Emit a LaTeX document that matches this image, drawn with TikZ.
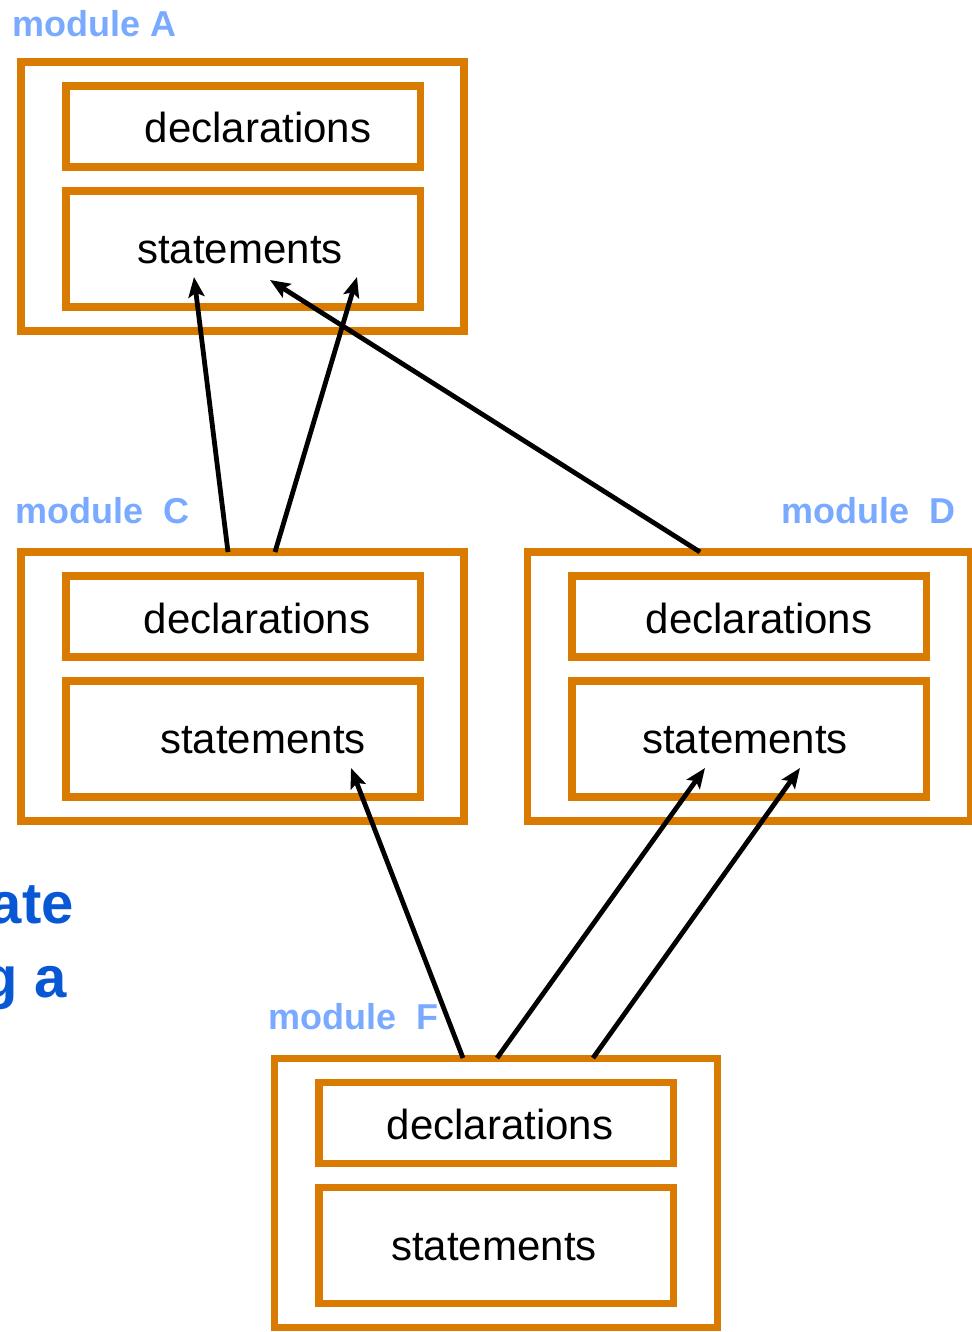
\documentclass[tikz,border=0pt]{standalone}
\usepackage{fontspec}
\setmainfont{Liberation Sans}
\usetikzlibrary{arrows.meta}
\definecolor{boxorange}{RGB}{217,123,0}
\definecolor{labelblue}{RGB}{122,170,255}
\definecolor{slideblue}{RGB}{8,88,214}

\begin{document}
\begin{tikzpicture}[
  x=0.5pt,y=-0.5pt,
  module/.style={draw=boxorange,line width=3.75pt,minimum width=221.5pt,minimum height=134.5pt,inner sep=0pt,outer sep=0pt},
  declbox/.style={draw=boxorange,line width=3.75pt,minimum width=177.25pt,minimum height=40.5pt,inner sep=0pt,outer sep=0pt},
  stmtbox/.style={draw=boxorange,line width=3.75pt,minimum width=177.25pt,minimum height=58pt,inner sep=0pt,outer sep=0pt},
  txt/.style={font=\fontsize{21}{25}\selectfont,inner sep=0pt},
  modlabel/.style={font=\bfseries\fontsize{18}{22}\selectfont,text=labelblue,inner sep=0pt},
  slide/.style={font=\bfseries\fontsize{29}{35}\selectfont,text=slideblue,inner sep=0pt,anchor=base east},
  dep/.style={-{Stealth[length=10pt,width=8pt,inset=2pt]},line width=2.4pt}
]
  \useasboundingbox (0,0) rectangle (972,1332);

  % slide text cut off at the left edge
  \node[slide] (slide1) at (74,923) {ate};
  \node[slide] (slide2) at (67,997) {g a};

  % module A
  \node[modlabel,anchor=west] (labA) at (12,24) {module A};
  \node[module] (Amod) at (242.5,196.5) {};
  \node[declbox] (Adecl) at (243,126.5) {};
  \node[stmtbox] (Astmt) at (243,249) {};
  \node[txt] (Adecltxt) at (258,127) {declarations};
  \node[txt] (Astmttxt) at (240,250) {statements};

  % module C
  \node[modlabel,anchor=west] (labC) at (15,511) {module\ \ C};
  \node[module] (Cmod) at (242.5,686.5) {};
  \node[declbox] (Cdecl) at (243,616.5) {};
  \node[stmtbox] (Cstmt) at (243,739) {};
  \node[txt] (Cdecltxt) at (257,618) {declarations};
  \node[txt] (Cstmttxt) at (263,740) {statements};

  % module D
  \node[modlabel,anchor=east] (labD) at (956,511) {module\ \ D};
  \node[module] (Dmod) at (749,686.5) {};
  \node[declbox] (Ddecl) at (749,616.5) {};
  \node[stmtbox] (Dstmt) at (749,739) {};
  \node[txt] (Ddecltxt) at (759,618) {declarations};
  \node[txt] (Dstmttxt) at (745,740) {statements};

  % module F
  \node[modlabel,anchor=west] (labF) at (268,1017) {module\ \ F};
  \node[module] (Fmod) at (496,1193) {};
  \node[declbox] (Fdecl) at (496,1123) {};
  \node[stmtbox] (Fstmt) at (496,1245.5) {};
  \node[txt] (Fdecltxt) at (500,1124) {declarations};
  \node[txt] (Fstmttxt) at (494,1247) {statements};

  % arrow ends
  \coordinate (C1) at (228,552);
  \coordinate (C2) at (275,552);
  \coordinate (D1) at (700,552);
  \coordinate (F1) at (463,1058);
  \coordinate (F2) at (497,1058);
  \coordinate (F3) at (593,1058);
  \coordinate (A1) at (194,277);
  \coordinate (A2) at (270,280);
  \coordinate (A3) at (357,277);
  \coordinate (Cin) at (351,768);
  \coordinate (Din1) at (705,768);
  \coordinate (Din2) at (800,768);

  \draw[dep] (C1) -- (A1);
  \draw[dep] (C2) -- (A3);
  \draw[dep] (D1) -- (A2);
  \draw[dep] (F1) -- (Cin);
  \draw[dep] (F2) -- (Din1);
  \draw[dep] (F3) -- (Din2);
\end{tikzpicture}
\end{document}
